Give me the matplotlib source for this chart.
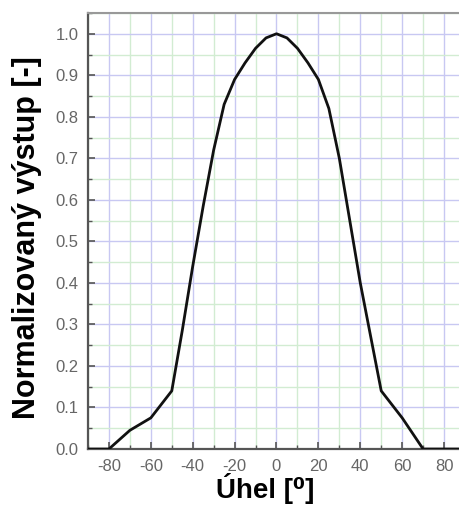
import numpy as np
import matplotlib
matplotlib.use("Agg")
import matplotlib.pyplot as plt
from matplotlib.ticker import MultipleLocator

# -*- data -*-
uhel = [-90, -80, -70, -60, -50, -45, -40, -35, -30, -25, -20, -15, -10, -5, 0,
        5, 10, 15, 20, 25, 30, 35, 40, 45, 50, 60, 70, 80, 90]
vystup = [0.0, 0.0, 0.045, 0.075, 0.14, 0.285, 0.44, 0.585, 0.72, 0.83, 0.89, 0.93, 0.965, 0.99, 1.0,
          0.99, 0.965, 0.93, 0.89, 0.82, 0.70, 0.55, 0.40, 0.27, 0.14, 0.075, 0.0, 0.0, 0.0]

x_ticks = [-80, -60, -40, -20, 0, 20, 40, 60, 80]
y_ticks = [0.0, 0.1, 0.2, 0.3, 0.4, 0.5, 0.6, 0.7, 0.8, 0.9, 1.0]

plt.rcParams['font.family'] = ['Liberation Sans', 'DejaVu Sans']

fig = plt.figure(figsize=(4.6, 5.05), dpi=100)
ax = fig.add_axes([88/460, 56/505, 377/460, 436/505])

# grid: blue on major ticks, green on the halves
ax.xaxis.set_major_locator(MultipleLocator(20))
ax.xaxis.set_minor_locator(MultipleLocator(10))
ax.yaxis.set_major_locator(MultipleLocator(0.1))
ax.yaxis.set_minor_locator(MultipleLocator(0.05))
ax.grid(which='major', color='#c8c8f2', linewidth=1.0)
ax.grid(which='minor', color='#d2ecd2', linewidth=1.0)
ax.set_axisbelow(True)

ax.plot(uhel, vystup, color='#111111', linewidth=2.0, solid_joinstyle='round', zorder=3)

ax.set_xlim(-90, 90)
ax.set_ylim(0, 1.05)
ax.set_xticks(x_ticks)
ax.set_yticks(y_ticks)
ax.set_xticklabels([str(t) for t in x_ticks])
ax.set_yticklabels([f"{t:.1f}" for t in y_ticks])

ax.tick_params(which='major', direction='in', length=5, width=1.2, color='#555555',
               labelsize=12, labelcolor='#666666', pad=7)
ax.tick_params(which='minor', direction='in', length=3, width=1.0, color='#555555')

for s in ['left', 'bottom']:
    ax.spines[s].set_color('#555555')
    ax.spines[s].set_linewidth(1.6)
ax.spines['top'].set_color('#999999')
ax.spines['top'].set_linewidth(1.5)
ax.spines['right'].set_visible(False)

ax.set_xlabel('Úhel [⁰]', fontsize=20, fontweight='bold')
ax.xaxis.set_label_coords((265 - 88) / 377, -(473 - 449) / 436)
ax.set_ylabel('Normalizovaný výstup [-]', fontsize=22, fontweight='bold')
ax.yaxis.set_label_coords(-(88 - 42) / 377, (449 - 238) / 436)

fig.savefig('out.png', dpi=100)
